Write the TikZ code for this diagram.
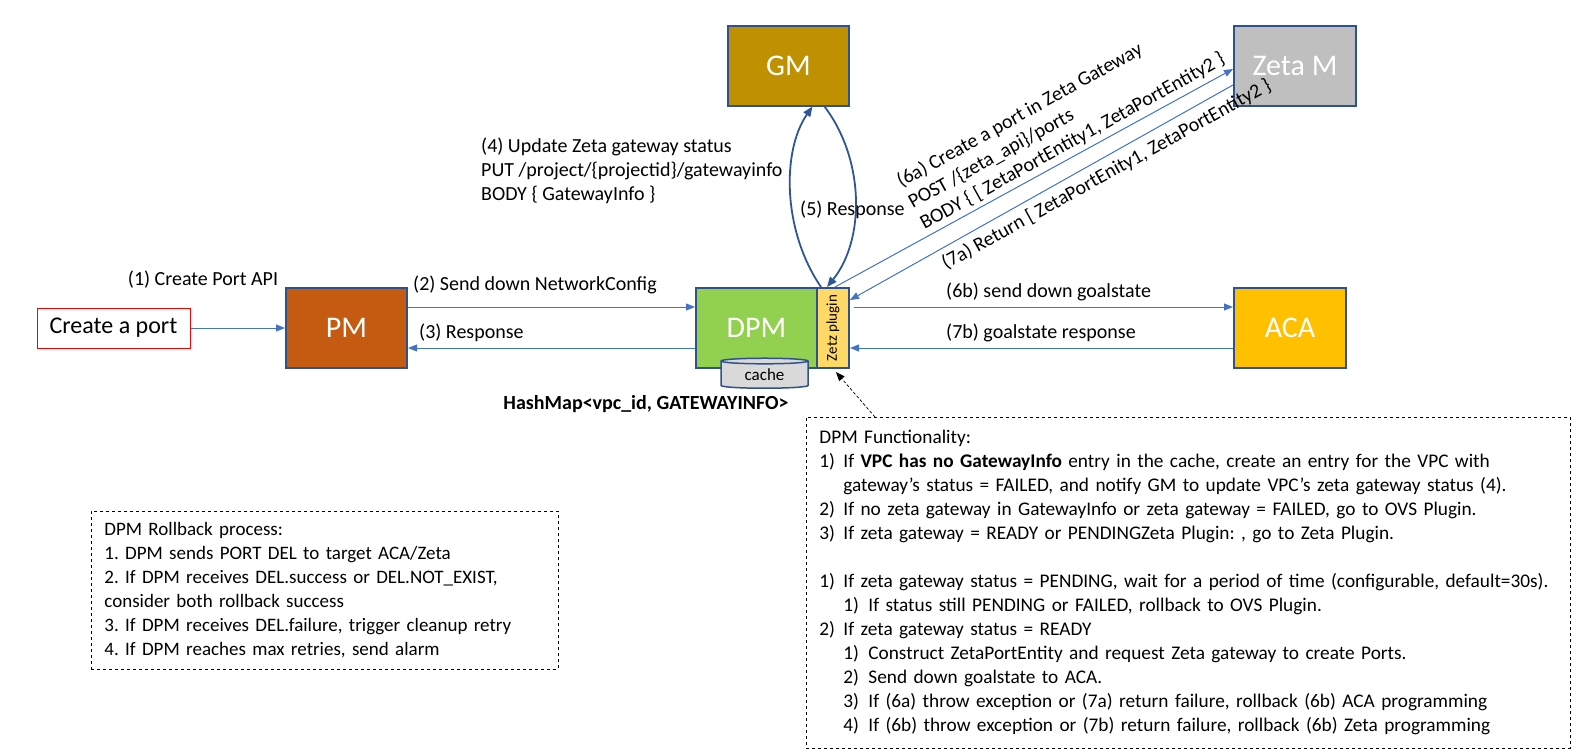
\documentclass[tikz,border=0pt]{standalone}
\usepackage{fontspec}
\setmainfont{Carlito}
\usetikzlibrary{arrows.meta, shapes.geometric}
\definecolor{pmorange}{HTML}{C55A11}
\definecolor{gmgold}{HTML}{BF9000}
\definecolor{zetagray}{HTML}{BFBFBF}
\definecolor{acayellow}{HTML}{FFC000}
\definecolor{dpmgreen}{HTML}{92D050}
\definecolor{plugyellow}{HTML}{FFD966}
\definecolor{boxblue}{HTML}{2F528F}
\definecolor{flowblue}{HTML}{4472C4}
\definecolor{curveblue}{HTML}{2F5597}
\definecolor{cachegray}{HTML}{D9D9D9}
\newcommand{\fs}[1]{\fontsize{#1}{24}\selectfont}
\newcommand{\itm}[1]{\makebox[24pt][l]{#1}}
\newcommand{\subitm}[1]{\hspace*{24pt}\makebox[25pt][l]{#1}}
\frenchspacing

\begin{document}
\begin{tikzpicture}[x=1pt, y=-1pt,
    comp/.style={draw=boxblue, line width=2pt, minimum width=121pt, minimum height=80pt, text=white, font=\fs{30}},
    flow/.style={flowblue, line width=1pt, -{Triangle[length=9pt, width=7pt]}},
    curve/.style={curveblue, line width=1.8pt, -{Triangle[length=10pt, width=8pt]}},
    lbl/.style={font=\fs{20}, inner sep=0pt},
    notebox/.style={draw, dashed, line width=0.8pt, inner xsep=13pt, align=left}]
  \useasboundingbox (0,0) rectangle (1580,753);
  \node[draw=red, line width=1pt, minimum width=153pt, minimum height=40pt, font=\fs{24}] (port) at (113.5,328) {Create a port};
  \node[comp, fill=pmorange] (pm) at (346.5,328) {PM};
  \node[comp, fill=dpmgreen] (dpm) at (756.5,328) {DPM};
  \node[draw=boxblue, line width=2pt, fill=plugyellow, minimum width=32pt, minimum height=80pt, inner sep=0pt] (plugin) at (833,328) {};
  \node[rotate=90, font=\fs{15}] at (plugin) {Zetz plugin};
  \node[comp, fill=gmgold] (gm) at (788.5,65.5) {GM};
  \node[comp, fill=zetagray, minimum width=122pt] (zeta) at (1295,65.5) {Zeta M};
  \node[comp, fill=acayellow, minimum width=112pt] (aca) at (1290,327.5) {ACA};
  \node[cylinder, shape border rotate=90, aspect=0.14, draw=boxblue, line width=1.5pt, fill=cachegray, minimum width=87pt, minimum height=30pt, inner sep=0pt, font=\fs{17}] (cache) at (764.5,375) {cache};

  \draw[flow] (port) -- (pm);
  \draw[flow] ([yshift=21pt]pm.east) -- ([yshift=21pt]dpm.west);
  \draw[flow] ([yshift=-20pt]dpm.west) -- ([yshift=-20pt]pm.east);
  \draw[flow] ([xshift=4pt, yshift=21pt]plugin.east) -- ([yshift=20.5pt]aca.west);
  \draw[flow] ([yshift=-20.5pt]aca.west) -- ([yshift=-20pt]plugin.east);
  \draw[flow] ([xshift=2pt]plugin.north) -- ([yshift=-3.5pt]zeta.west);
  \draw[flow] ([yshift=-19.5pt]zeta.west) -- ([yshift=28pt]plugin.east);
  \draw[curve] ([xshift=5pt]plugin.north west) .. controls (782,230) and (782,150) .. ([xshift=24pt]gm.south);
  \draw[curve] ([xshift=36pt]gm.south) .. controls (865,160) and (865,240) .. ([xshift=11pt]plugin.north west);

  \node[lbl] (lblone) at (203,280) {(1) Create Port API};
  \node[lbl, anchor=west] (lbltwo) at (413,285) {(2) Send down NetworkConfig};
  \node[lbl, anchor=west] (lblthree) at (419,333) {(3) Response};
  \node[lbl, anchor=west, align=left] (lblfour) at (481,171) {(4) Update Zeta gateway status\\PUT /project/\{projectid\}/gatewayinfo\\BODY \{ GatewayInfo \}};
  \node[lbl, anchor=west] (lblfive) at (800,210) {(5) Response};
  \node[lbl, anchor=west, align=left, rotate=29] (lblsixa) at (910,204) {(6a) Create a port in Zeta Gateway\\POST /\{zeta\_api\}/ports\\BODY \{ [ ZetaPortEntity1, ZetaPortEntity2 \}};
  \node[lbl, anchor=base west, rotate=29] (lblsevena) at (946,270) {(7a) Return [ ZetaPortEnity1, ZetaPortEntity2 \}};
  \node[lbl, anchor=west] (lblsixb) at (946,292) {(6b) send down goalstate};
  \node[lbl, anchor=west] (lblsevenb) at (946,333) {(7b) goalstate response};
  \node[lbl, font=\bfseries\fs{20}] (hashmap) at (646,404) {HashMap<vpc\_id, GATEWAYINFO>};

  \node[notebox, font=\fs{19.3}, anchor=north west, minimum width=764pt, minimum height=331pt, text width=738pt] (func) at (806,417) {DPM Functionality:\\
    \itm{1)}If \textbf{VPC has no GatewayInfo} entry in the cache, create an entry for the VPC with\\
    \hspace*{24pt}gateway’s status = FAILED, and notify GM to update VPC’s zeta gateway status (4).\\
    \itm{2)}If no zeta gateway in GatewayInfo or zeta gateway = FAILED, go to OVS Plugin.\\
    \itm{3)}If zeta gateway = READY or PENDINGZeta Plugin: , go to Zeta Plugin.\\[24pt]
    \itm{1)}If zeta gateway status = PENDING, wait for a period of time (configurable, default=30s).\\
    \subitm{1)}If status still PENDING or FAILED, rollback to OVS Plugin.\\
    \itm{2)}If zeta gateway status = READY\\
    \subitm{1)}Construct ZetaPortEntity and request Zeta gateway to create Ports.\\
    \subitm{2)}Send down goalstate to ACA.\\
    \subitm{3)}If (6a) throw exception or (7a) return failure, rollback (6b) ACA programming\\
    \subitm{4)}If (6b) throw exception or (7b) return failure, rollback (6b) Zeta programming};
  \draw[densely dashed, line width=0.7pt, -{Triangle[length=9pt, width=7pt]}] ([xshift=69pt]func.north west) -- ([xshift=3pt, yshift=-3pt]plugin.south);

  \node[notebox, font=\fs{19}, anchor=north west, minimum width=467pt, minimum height=158pt, text width=441pt] (rollback) at (91,511) {DPM Rollback process:\\
    1. DPM sends PORT DEL to target ACA/Zeta\\
    2. If DPM receives DEL.success or DEL.NOT\_EXIST,\\
    consider both rollback success\\
    3. If DPM receives DEL.failure, trigger cleanup retry\\
    4. If DPM reaches max retries, send alarm};
\end{tikzpicture}
\end{document}
